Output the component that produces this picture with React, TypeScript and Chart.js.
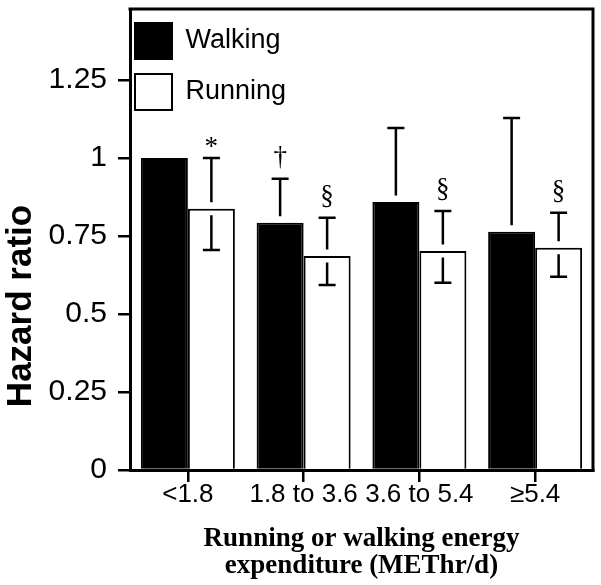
import React, { useEffect, useRef } from 'react';
import { Chart, registerables } from 'chart.js';

Chart.register(...registerables);

const categories = ['<1.8', '1.8 to 3.6', '3.6 to 5.4', '\u22655.4'];
const walking = [1.0, 0.792, 0.859, 0.763];
const running = [0.837, 0.686, 0.702, 0.712];
const walkingUpper = [null, 0.933, 1.096, 1.128];
const walkingLower = [null, null, null, null];
const runningUpper = [1.0, 0.808, 0.83, 0.824];
const runningLower = [0.705, 0.593, 0.6, 0.619];
const walkingMarks = ['', '\u2020', '', ''];
const runningMarks = ['*', '\u00a7', '\u00a7', '\u00a7'];
const yMin = 0;
const yMax = 1.477;
const yStep = 0.25;
const yTitle = 'Hazard ratio';
const xTitle = ['Running or walking energy', 'expenditure (METhr/d)'];

const SANS = '"Liberation Sans", Arial, Helvetica, sans-serif';
const SERIF = '"Liberation Serif", "Times New Roman", serif';

const errorBarPlugin = {
  id: 'errorBars',
  afterDatasetsDraw(chart: any) {
    const ctx = chart.ctx;
    const ys = chart.scales.y;
    const gap = 6.5;
    const capHalf = 8.5;
    chart.data.datasets.forEach((ds: any, di: number) => {
      const meta = chart.getDatasetMeta(di);
      meta.data.forEach((bar: any, i: number) => {
        const x = bar.x;
        const top = bar.y;
        ctx.save();
        ctx.strokeStyle = '#000';
        ctx.lineWidth = 2.5;
        let capY = top;
        const up = ds.errUpper ? ds.errUpper[i] : null;
        const lo = ds.errLower ? ds.errLower[i] : null;
        if (up != null) {
          const yu = ys.getPixelForValue(up);
          capY = yu;
          ctx.beginPath();
          ctx.moveTo(x, yu);
          ctx.lineTo(x, top - gap);
          ctx.moveTo(x - capHalf, yu);
          ctx.lineTo(x + capHalf, yu);
          ctx.stroke();
        }
        if (lo != null) {
          const yl = ys.getPixelForValue(lo);
          ctx.beginPath();
          ctx.moveTo(x, top + gap);
          ctx.lineTo(x, yl);
          ctx.moveTo(x - capHalf, yl);
          ctx.lineTo(x + capHalf, yl);
          ctx.stroke();
        }
        const mark = ds.marks ? ds.marks[i] : '';
        if (mark) {
          ctx.fillStyle = '#000';
          ctx.font = '27px ' + SERIF;
          ctx.textAlign = 'center';
          ctx.textBaseline = 'alphabetic';
          const m = ctx.measureText(mark);
          ctx.fillText(mark, x, capY - 10 - m.actualBoundingBoxDescent);
        }
        ctx.restore();
      });
    });
  },
  afterDraw(chart: any) {
    const ctx = chart.ctx;
    const a = chart.chartArea;
    ctx.save();
    ctx.strokeStyle = '#000';
    ctx.lineWidth = 3;
    ctx.beginPath();
    ctx.moveTo(a.left - 1.5, a.top);
    ctx.lineTo(a.right, a.top);
    ctx.lineTo(a.right, a.bottom + 1.5);
    ctx.stroke();
    ctx.fillStyle = '#000';
    ctx.font = 'bold 35px ' + SANS;
    ctx.textAlign = 'center';
    ctx.textBaseline = 'middle';
    ctx.translate(21, 306);
    ctx.rotate(-Math.PI / 2);
    ctx.fillText(yTitle, 0, 0);
    ctx.restore();
  },
};

export default function App() {
  const ref = useRef<HTMLCanvasElement>(null);
  useEffect(() => {
    const canvas = ref.current!;
    const chart = new Chart(canvas, {
      type: 'bar',
      data: {
        labels: categories,
        datasets: [
          {
            label: 'Walking',
            data: walking,
            backgroundColor: '#000',
            borderColor: '#000',
            borderWidth: 2,
            errUpper: walkingUpper,
            errLower: walkingLower,
            marks: walkingMarks,
          } as any,
          {
            label: 'Running',
            data: running,
            backgroundColor: '#fff',
            borderColor: '#000',
            borderWidth: 2,
            errUpper: runningUpper,
            errLower: runningLower,
            marks: runningMarks,
          } as any,
        ],
      },
      options: {
        responsive: false,
        animation: false,
        devicePixelRatio: 1,
        layout: { padding: { top: 9, right: 8, left: 0, bottom: 0 } },
        datasets: { bar: { barPercentage: 1, categoryPercentage: 0.812 } },
        plugins: {
          tooltip: { enabled: false },
          legend: {
            position: 'chartArea' as any,
            align: 'start',
            title: { display: true, text: ' ', font: { size: 18, lineHeight: 1 }, padding: 0 },
            labels: {
              boxWidth: 37,
              boxHeight: 36,
              padding: 5,
              color: '#000',
              font: { family: SANS, size: 27, lineHeight: '46px' as any },
              generateLabels: (c: any) =>
                Chart.defaults.plugins.legend.labels
                  .generateLabels(c)
                  .map((l: any) => ({ ...l, text: [l.text] })),
            },
          },
        },
        scales: {
          x: {
            grid: {
              display: true,
              drawOnChartArea: false,
              drawTicks: true,
              tickLength: 12,
              offset: false,
              color: '#000',
              lineWidth: 2.5,
            },
            border: { display: true, color: '#000', width: 3 },
            ticks: {
              color: '#000',
              padding: 0,
              maxRotation: 0,
              autoSkip: false,
              font: { family: SANS, size: 26, lineHeight: 1 },
            },
            title: {
              display: true,
              text: xTitle,
              color: '#000',
              font: { family: SERIF, size: 27, weight: 'bold', lineHeight: '27px' as any },
              padding: { top: 0, bottom: 5 },
            },
            afterFit: (s: any) => {
              s.height = 115;
              s.paddingLeft = 0;
              s.paddingRight = 0;
              s.paddingTop = 0;
              s.paddingBottom = 0;
            },
          },
          y: {
            min: yMin,
            max: yMax,
            grid: {
              display: true,
              drawOnChartArea: false,
              drawTicks: true,
              tickLength: 12,
              color: '#000',
              lineWidth: 2.5,
            },
            border: { display: true, color: '#000', width: 3 },
            ticks: {
              stepSize: yStep,
              includeBounds: false,
              color: '#000',
              padding: 11,
              font: { family: SANS, size: 30 },
              callback: (v: any) => String(v),
            },
            afterFit: (s: any) => {
              s.width = 130;
              s.paddingLeft = 0;
              s.paddingRight = 0;
              s.paddingTop = 0;
              s.paddingBottom = 0;
            },
          },
        },
      },
      plugins: [errorBarPlugin],
    });
    return () => chart.destroy();
  }, []);
  return (
    <div style={{ position: 'absolute', left: 0, top: 0, width: 601, height: 585, background: '#fff' }}>
      <canvas ref={ref} width={601} height={585} style={{ display: 'block' }} />
    </div>
  );
}
